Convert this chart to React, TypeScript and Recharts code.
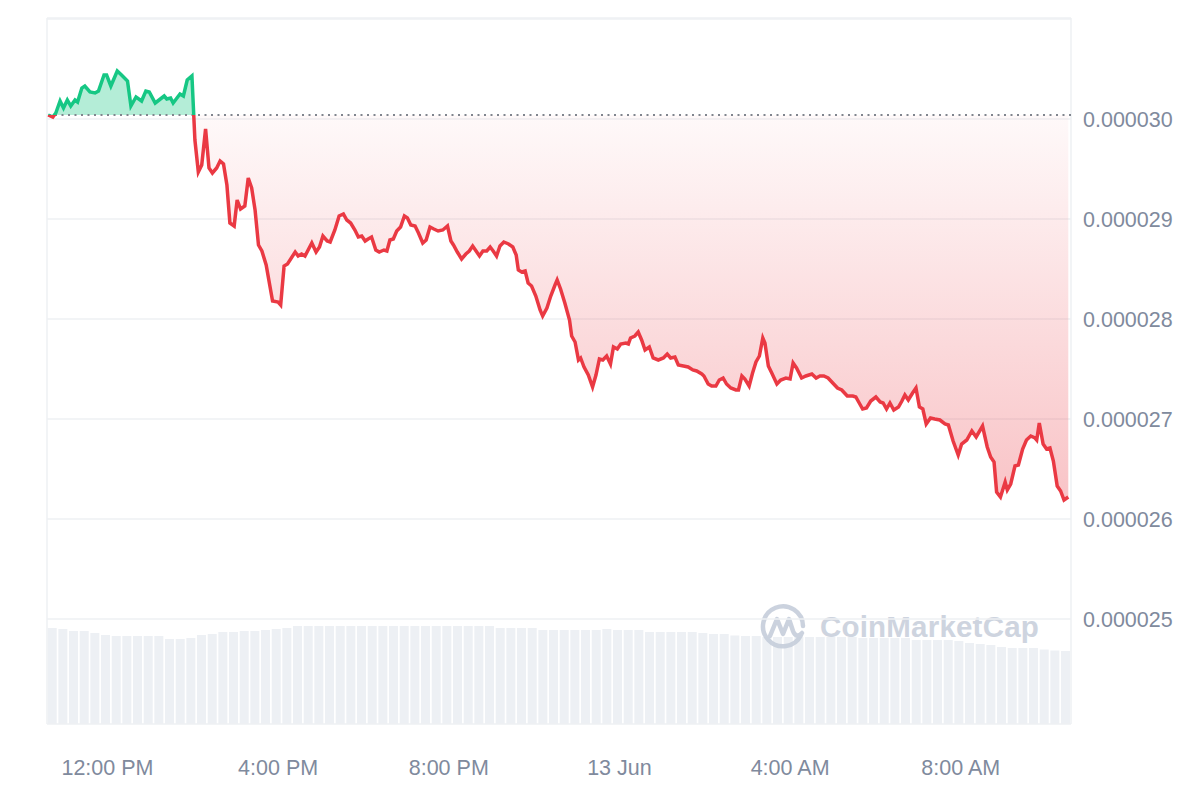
import {
  ComposedChart,
  BarChart,
  Bar,
  Area,
  Line,
  XAxis,
  YAxis,
  CartesianGrid,
  ReferenceLine,
} from "recharts";

// time in hours since 00:00 on 12 Jun (24h window, 10:35 -> 10:35 next day)
const START = 10 + 35 / 60;
const END = START + 24;

const times = [
  10.61, 10.72, 10.79, 10.89, 10.97, 11.06, 11.14, 11.24, 11.3, 11.4,
  11.47, 11.59, 11.71, 11.79, 11.92, 11.98, 12.08, 12.23, 12.33, 12.47,
  12.55, 12.67, 12.8, 12.9, 12.98, 13.12, 13.33, 13.39, 13.48, 13.54,
  13.7, 13.78, 13.87, 13.98, 14.05, 14.13, 14.21, 14.3, 14.38, 14.46,
  14.56, 14.64, 14.72, 14.8, 14.87, 14.97, 15.04, 15.12, 15.22, 15.3,
  15.38, 15.46, 15.54, 15.62, 15.72, 15.87, 16.0, 16.06, 16.14, 16.22,
  16.4, 16.47, 16.55, 16.63, 16.79, 16.89, 16.97, 17.05, 17.15, 17.22,
  17.33, 17.43, 17.53, 17.61, 17.7, 17.8, 17.88, 17.96, 18.04, 18.11,
  18.19, 18.29, 18.37, 18.48, 18.55, 18.62, 18.7, 18.78, 18.87, 18.96,
  19.03, 19.11, 19.21, 19.29, 19.39, 19.47, 19.56, 19.65, 19.75, 19.86,
  19.97, 20.05, 20.11, 20.2, 20.3, 20.4, 20.48, 20.56, 20.64, 20.72,
  20.8, 20.89, 20.97, 21.04, 21.12, 21.2, 21.29, 21.4, 21.5, 21.58,
  21.63, 21.71, 21.79, 21.86, 21.94, 22.04, 22.14, 22.2, 22.3, 22.39,
  22.49, 22.54, 22.62, 22.72, 22.83, 22.88, 22.96, 23.04, 23.09, 23.17,
  23.27, 23.37, 23.45, 23.53, 23.61, 23.7, 23.79, 23.86, 23.95, 24.03,
  24.15, 24.21, 24.26, 24.36, 24.44, 24.52, 24.6, 24.7, 24.79, 24.91,
  25.03, 25.12, 25.2, 25.3, 25.38, 25.5, 25.61, 25.72, 25.81, 25.93,
  25.98, 26.08, 26.16, 26.26, 26.34, 26.43, 26.51, 26.61, 26.73, 26.79,
  26.87, 26.94, 27.04, 27.12, 27.2, 27.28, 27.36, 27.41, 27.49, 27.57,
  27.69, 27.78, 27.9, 28.0, 28.07, 28.15, 28.27, 28.37, 28.51, 28.61,
  28.7, 28.79, 28.89, 29.0, 29.11, 29.21, 29.34, 29.47, 29.54, 29.62,
  29.7, 29.79, 29.89, 30.01, 30.11, 30.18, 30.26, 30.34, 30.43, 30.54,
  30.62, 30.69, 30.77, 30.87, 30.95, 31.03, 31.11, 31.19, 31.29, 31.39,
  31.51, 31.63, 31.71, 31.82, 31.94, 32.02, 32.14, 32.26, 32.36, 32.51,
  32.62, 32.7, 32.78, 32.84, 32.93, 33.04, 33.09, 33.17, 33.27, 33.35,
  33.45, 33.54, 33.64, 33.74, 33.78, 33.84, 33.93, 34.01, 34.09, 34.17,
  34.26, 34.34, 34.42, 34.52,
];

// price in units of 1e-6 USD
const prices = [
  30.04, 30.02, 30.06, 30.18, 30.11, 30.19, 30.13, 30.19, 30.17, 30.31,
  30.33, 30.27, 30.26, 30.28, 30.44, 30.44, 30.33, 30.48, 30.44, 30.38,
  30.13, 30.22, 30.18, 30.28, 30.27, 30.16, 30.23, 30.2, 30.21, 30.16,
  30.25, 30.23, 30.39, 30.43, 29.79, 29.47, 29.54, 29.9, 29.51, 29.46,
  29.51, 29.58, 29.55, 29.34, 28.96, 28.93, 29.19, 29.1, 29.13, 29.41,
  29.31, 29.09, 28.74, 28.68, 28.54, 28.18, 28.17, 28.14, 28.53, 28.55,
  28.67, 28.63, 28.65, 28.63, 28.76, 28.67, 28.72, 28.83, 28.78, 28.77,
  28.89, 29.03, 29.05, 28.99, 28.96, 28.89, 28.82, 28.83, 28.78, 28.8,
  28.82, 28.69, 28.67, 28.69, 28.68, 28.79, 28.8, 28.88, 28.92, 29.03,
  29.01, 28.94, 28.93, 28.86, 28.76, 28.79, 28.92, 28.9, 28.88, 28.89,
  28.93, 28.78, 28.74, 28.67, 28.6, 28.65, 28.68, 28.73, 28.68, 28.63,
  28.68, 28.68, 28.72, 28.68, 28.63, 28.73, 28.77, 28.75, 28.72, 28.64,
  28.49, 28.47, 28.48, 28.36, 28.33, 28.23, 28.09, 28.03, 28.11, 28.23,
  28.34, 28.39, 28.3, 28.16, 27.99, 27.83, 27.77, 27.59, 27.61, 27.52,
  27.44, 27.32, 27.44, 27.6, 27.59, 27.63, 27.55, 27.72, 27.7, 27.75,
  27.76, 27.75, 27.81, 27.83, 27.87, 27.79, 27.69, 27.72, 27.61, 27.59,
  27.61, 27.65, 27.61, 27.62, 27.54, 27.53, 27.52, 27.49, 27.48, 27.45,
  27.43, 27.35, 27.33, 27.33, 27.39, 27.41, 27.35, 27.31, 27.29, 27.29,
  27.43, 27.4, 27.33, 27.46, 27.57, 27.63, 27.81, 27.76, 27.53, 27.46,
  27.35, 27.39, 27.41, 27.4, 27.56, 27.51, 27.41, 27.43, 27.45, 27.41,
  27.43, 27.43, 27.41, 27.36, 27.31, 27.29, 27.23, 27.23, 27.22, 27.16,
  27.1, 27.11, 27.18, 27.22, 27.17, 27.16, 27.1, 27.16, 27.09, 27.12,
  27.18, 27.24, 27.19, 27.26, 27.31, 27.12, 27.1, 26.95, 27.01, 27.0,
  26.99, 26.95, 26.94, 26.78, 26.64, 26.75, 26.79, 26.88, 26.82, 26.93,
  26.72, 26.62, 26.57, 26.27, 26.22, 26.37, 26.29, 26.35, 26.53, 26.54,
  26.7, 26.79, 26.83, 26.81, 26.79, 26.96, 26.75, 26.7, 26.71, 26.58,
  26.33, 26.28, 26.19, 26.22,
];

// 15-minute volume bars (arbitrary units)
const volumes = [
  9.6, 9.5, 9.3, 9.3, 9.1, 8.9, 8.8, 8.8, 8.8, 8.8,
  8.8, 8.5, 8.5, 8.6, 8.9, 9.0, 9.2, 9.2, 9.3, 9.3,
  9.4, 9.5, 9.6, 9.8, 9.8, 9.8, 9.8, 9.8, 9.8, 9.8,
  9.8, 9.8, 9.8, 9.8, 9.8, 9.8, 9.8, 9.8, 9.8, 9.8,
  9.8, 9.8, 9.6, 9.6, 9.6, 9.6, 9.4, 9.4, 9.4, 9.4,
  9.4, 9.4, 9.5, 9.4, 9.4, 9.4, 9.2, 9.2, 9.2, 9.2,
  9.2, 9.1, 9.0, 9.0, 8.85, 8.8, 8.8, 8.7, 8.7, 8.7,
  8.7, 8.7, 8.7, 8.7, 8.7, 8.7, 8.6, 8.6, 8.6, 8.6,
  8.6, 8.4, 8.4, 8.4, 8.4, 8.3, 8.1, 8.0, 7.9, 7.7,
  7.6, 7.6, 7.6, 7.45, 7.35, 7.3,
];

const xTicks = [12, 16, 20, 24, 28, 32];
const xLabels = ["12:00 PM", "4:00 PM", "8:00 PM", "13 Jun", "4:00 AM", "8:00 AM"];
const yTicks = [25, 26, 27, 28, 29, 30, 31];

const BASE = prices[0];
const GREEN = "#16c784";
const RED = "#ea3943";
const TICK_COLOR = "#808a9d";
const FONT = "'Liberation Sans', Arial, Helvetica, sans-serif";

const priceData = times.map((t, i) => ({
  t,
  price: prices[i],
  up: Math.max(prices[i], BASE),
  down: Math.min(prices[i], BASE),
}));
const volumeData = volumes.map((v, i) => ({ i, v }));

const maxP = Math.max(...prices);
const minP = Math.min(...prices);
const splitOffset = (maxP - BASE) / (maxP - minP);

function Watermark() {
  return (
    <div
      style={{
        position: "absolute",
        left: 758,
        top: 602,
        display: "flex",
        alignItems: "center",
        gap: 12,
        opacity: 0.9,
        pointerEvents: "none",
      }}
    >
      <svg width={50} height={50} viewBox="0 0 50 50">
        <path
          d="M43 33 A20 20 0 1 1 45 24"
          fill="none"
          stroke="#c6cedb"
          strokeWidth={4.5}
          strokeLinecap="round"
        />
        <path
          d="M12 34 L19 17 L25 32 L31 17 L35 29 Q38 37 44 31"
          fill="none"
          stroke="#c6cedb"
          strokeWidth={4.5}
          strokeLinecap="round"
          strokeLinejoin="round"
        />
      </svg>
      <span
        style={{
          fontFamily: FONT,
          fontWeight: 700,
          fontSize: 29.5,
          color: "#c9d0dc",
          letterSpacing: 0.2,
        }}
      >
        CoinMarketCap
      </span>
    </div>
  );
}

export default function App() {
  return (
    <div
      style={{
        position: "absolute",
        left: 0,
        top: 0,
        width: 1200,
        height: 800,
        background: "#fff",
        fontFamily: FONT,
      }}
    >
      <div style={{ position: "absolute", left: 0, top: 0 }}>
        <BarChart
          width={1200}
          height={800}
          data={volumeData}
          margin={{ top: 18, right: 129, bottom: 76, left: 47 }}
          barCategoryGap={0.7}
        >
          <XAxis dataKey="i" hide />
          <YAxis hide domain={[0, 70.6]} />
          <Bar dataKey="v" fill="#edf0f4" isAnimationActive={false} />
        </BarChart>
      </div>
      <Watermark />
      <div style={{ position: "absolute", left: 0, top: 0 }}>
        <ComposedChart
          width={1200}
          height={800}
          data={priceData}
          margin={{ top: 18, right: 0, bottom: 0, left: 47 }}
        >
          <defs>
            <linearGradient id="lineStroke" x1="0" y1="0" x2="0" y2="1">
              <stop offset={splitOffset} stopColor={GREEN} />
              <stop offset={splitOffset} stopColor={RED} />
            </linearGradient>
            <linearGradient id="redFill" x1="0" y1="0" x2="0" y2="1">
              <stop offset="0%" stopColor={RED} stopOpacity={0.03} />
              <stop offset="100%" stopColor={RED} stopOpacity={0.3} />
            </linearGradient>
          </defs>
          <CartesianGrid vertical={false} stroke="#eef0f3" strokeWidth={1.5} />
          <ReferenceLine x={START} stroke="#eef0f3" strokeWidth={1.5} />
          <ReferenceLine x={END} stroke="#eef0f3" strokeWidth={1.5} />
          <XAxis
            dataKey="t"
            type="number"
            domain={[START, END]}
            ticks={xTicks}
            tickFormatter={(v) => xLabels[xTicks.indexOf(v)] ?? ""}
            axisLine={false}
            tickLine={false}
            tickMargin={30}
            height={76}
            tick={{ fill: TICK_COLOR, fontSize: 21.5, fontFamily: FONT }}
            allowDataOverflow
          />
          <YAxis
            orientation="right"
            type="number"
            domain={[23.95, 31.01]}
            ticks={yTicks}
            tickFormatter={(v) => (v === 31 ? "" : (v / 1e6).toFixed(6))}
            axisLine={false}
            tickLine={false}
            tickMargin={6}
            width={129}
            tick={{ fill: TICK_COLOR, fontSize: 21.5, fontFamily: FONT }}
            allowDataOverflow
          />
          <Area
            type="linear"
            dataKey="up"
            baseValue={BASE}
            stroke="none"
            fill={GREEN}
            fillOpacity={0.32}
            isAnimationActive={false}
          />
          <Area
            type="linear"
            dataKey="down"
            baseValue={BASE}
            stroke="none"
            fill="url(#redFill)"
            fillOpacity={1}
            isAnimationActive={false}
          />
          <ReferenceLine
            y={BASE}
            stroke="#80858e"
            strokeWidth={2}
            strokeDasharray="2 4.5"
          />
          <Line
            type="linear"
            dataKey="price"
            stroke="url(#lineStroke)"
            strokeWidth={3.5}
            dot={false}
            activeDot={false}
            isAnimationActive={false}
          />
        </ComposedChart>
      </div>
    </div>
  );
}
